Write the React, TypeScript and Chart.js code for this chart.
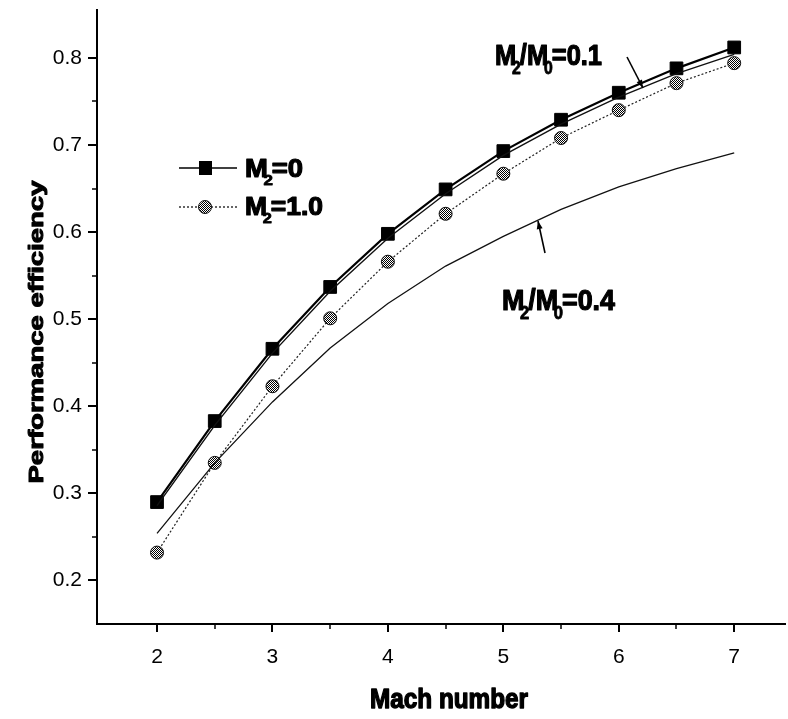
import React, { useEffect, useRef } from 'react';
import { Chart, registerables } from 'chart.js';

Chart.register(...registerables);

// ---------- data ----------
const machNumbers = [2, 2.5, 3, 3.5, 4, 4.5, 5, 5.5, 6, 6.5, 7];
const effM2Zero = [0.290, 0.383, 0.466, 0.537, 0.598, 0.649, 0.693, 0.729, 0.760, 0.788, 0.812];
const effM2One = [0.232, 0.335, 0.423, 0.501, 0.566, 0.621, 0.667, 0.708, 0.740, 0.771, 0.794];
const effRatio01 = [0.286, 0.378, 0.461, 0.532, 0.593, 0.644, 0.688, 0.724, 0.755, 0.782, 0.804];
const effRatio04 = [0.254, 0.335, 0.405, 0.467, 0.518, 0.561, 0.595, 0.626, 0.652, 0.673, 0.691];

const xTickValues = [2, 3, 4, 5, 6, 7];
const xMinorTicks = [2.5, 3.5, 4.5, 5.5, 6.5];
const yTickValues = [0.2, 0.3, 0.4, 0.5, 0.6, 0.7, 0.8];
const yMinorTicks = [0.25, 0.35, 0.45, 0.55, 0.65, 0.75];

const xTitle = 'Mach number';
const yTitle = 'Performance efficiency';

type Part = { t: string; sub?: boolean };
const legendM2Zero: Part[] = [{ t: 'M' }, { t: '2', sub: true }, { t: '=0' }];
const legendM2One: Part[] = [{ t: 'M' }, { t: '2', sub: true }, { t: '=1.0' }];
const labelRatio01: Part[] = [{ t: 'M' }, { t: '2', sub: true }, { t: '/M' }, { t: '0', sub: true }, { t: '=0.1' }];
const labelRatio04: Part[] = [{ t: 'M' }, { t: '2', sub: true }, { t: '/M' }, { t: '0', sub: true }, { t: '=0.4' }];

const FONT = '"Liberation Sans", Arial, sans-serif';

const toPoints = (ys: number[]) => machNumbers.map((x, i) => ({ x, y: ys[i] }));

function heavyText(ctx: CanvasRenderingContext2D, t: string, x: number, y: number, w: number) {
  ctx.fillText(t, x, y);
  ctx.lineWidth = w;
  ctx.lineJoin = 'round';
  ctx.strokeStyle = '#000';
  ctx.strokeText(t, x, y);
}

function drawRich(
  ctx: CanvasRenderingContext2D,
  parts: Part[],
  x: number,
  baseline: number,
  size: number,
  targetWidth: number
) {
  const subSize = size * 0.62;
  const layout: { p: Part; dx: number }[] = [];
  let adv = 0;
  for (const p of parts) {
    if (p.sub) {
      adv -= size * 0.16;
      ctx.font = `bold ${subSize}px ${FONT}`;
      layout.push({ p, dx: adv });
      adv += ctx.measureText(p.t).width - size * 0.04;
    } else {
      ctx.font = `bold ${size}px ${FONT}`;
      layout.push({ p, dx: adv });
      adv += ctx.measureText(p.t).width;
    }
  }
  ctx.save();
  ctx.translate(x, baseline);
  ctx.scale(targetWidth / adv, 1);
  ctx.fillStyle = '#000';
  ctx.textAlign = 'left';
  ctx.textBaseline = 'alphabetic';
  for (const { p, dx } of layout) {
    if (p.sub) {
      ctx.font = `bold ${subSize}px ${FONT}`;
      heavyText(ctx, p.t, dx, size * 0.32, 0.8);
    } else {
      ctx.font = `bold ${size}px ${FONT}`;
      heavyText(ctx, p.t, dx, 0, 1.2);
    }
  }
  ctx.restore();
}

function drawArrow(ctx: CanvasRenderingContext2D, x1: number, y1: number, x2: number, y2: number) {
  ctx.save();
  ctx.strokeStyle = '#000';
  ctx.fillStyle = '#000';
  ctx.lineWidth = 1.6;
  ctx.beginPath();
  ctx.moveTo(x1, y1);
  ctx.lineTo(x2, y2);
  ctx.stroke();
  const ang = Math.atan2(y2 - y1, x2 - x1);
  const len = 8;
  const w = 3;
  ctx.beginPath();
  ctx.moveTo(x2, y2);
  ctx.lineTo(x2 - len * Math.cos(ang) + w * Math.sin(ang), y2 - len * Math.sin(ang) - w * Math.cos(ang));
  ctx.lineTo(x2 - len * Math.cos(ang) - w * Math.sin(ang), y2 - len * Math.sin(ang) + w * Math.cos(ang));
  ctx.closePath();
  ctx.fill();
  ctx.restore();
}

function makePattern(): CanvasPattern | string {
  const pc = document.createElement('canvas');
  pc.width = 2;
  pc.height = 2;
  const p = pc.getContext('2d');
  if (!p) return '#666';
  p.fillStyle = '#fff';
  p.fillRect(0, 0, 2, 2);
  p.fillStyle = '#000';
  p.fillRect(0, 0, 1, 1);
  p.fillRect(1, 1, 1, 1);
  const pat = p.createPattern(pc, 'repeat');
  return pat || '#666';
}

export default function App() {
  const canvasRef = useRef<HTMLCanvasElement | null>(null);

  useEffect(() => {
    const canvas = canvasRef.current;
    if (!canvas) return;
    const pattern = makePattern();

    const decorations = {
      id: 'decorations',
      afterDraw(chart: any) {
        const ctx: CanvasRenderingContext2D = chart.ctx;
        const xs = chart.scales.x;
        const ys = chart.scales.y;
        const area = chart.chartArea;
        ctx.save();
        ctx.strokeStyle = '#000';
        // y ticks (outward)
        ctx.lineWidth = 2;
        for (const v of yTickValues) {
          const py = Math.round(ys.getPixelForValue(v));
          ctx.beginPath();
          ctx.moveTo(area.left - 9, py);
          ctx.lineTo(area.left, py);
          ctx.stroke();
        }
        ctx.lineWidth = 1.5;
        for (const v of yMinorTicks) {
          const py = Math.round(ys.getPixelForValue(v));
          ctx.beginPath();
          ctx.moveTo(area.left - 5, py);
          ctx.lineTo(area.left, py);
          ctx.stroke();
        }
        // x ticks (outward)
        ctx.lineWidth = 2;
        for (const v of xTickValues) {
          const px = Math.round(xs.getPixelForValue(v));
          ctx.beginPath();
          ctx.moveTo(px, area.bottom);
          ctx.lineTo(px, area.bottom + 8);
          ctx.stroke();
        }
        ctx.lineWidth = 1.5;
        for (const v of xMinorTicks) {
          const px = Math.round(xs.getPixelForValue(v));
          ctx.beginPath();
          ctx.moveTo(px, area.bottom);
          ctx.lineTo(px, area.bottom + 5);
          ctx.stroke();
        }

        // axis titles
        ctx.fillStyle = '#000';
        ctx.font = `bold 28px ${FONT}`;
        const wx = ctx.measureText(xTitle).width;
        ctx.save();
        ctx.translate(449, 708);
        ctx.scale(158 / wx, 1);
        ctx.textAlign = 'center';
        ctx.textBaseline = 'alphabetic';
        heavyText(ctx, xTitle, 0, 0, 1.4);
        ctx.restore();

        ctx.font = `bold 28px ${FONT}`;
        const wy = ctx.measureText(yTitle).width;
        ctx.save();
        ctx.translate(43, 332);
        ctx.rotate(-Math.PI / 2);
        ctx.scale(303 / wy, 0.75);
        ctx.textAlign = 'center';
        ctx.textBaseline = 'alphabetic';
        heavyText(ctx, yTitle, 0, 0, 1.4);
        ctx.restore();

        // legend
        ctx.strokeStyle = '#000';
        ctx.lineWidth = 1.5;
        ctx.setLineDash([]);
        ctx.beginPath();
        ctx.moveTo(179, 168);
        ctx.lineTo(237, 168);
        ctx.stroke();
        ctx.fillStyle = '#000';
        ctx.fillRect(199, 161, 13, 14);
        drawRich(ctx, legendM2Zero, 245, 177, 25, 58);

        ctx.strokeStyle = '#000';
        ctx.lineWidth = 1.2;
        ctx.setLineDash([2, 2]);
        ctx.beginPath();
        ctx.moveTo(179, 207);
        ctx.lineTo(237, 207);
        ctx.stroke();
        ctx.setLineDash([]);
        ctx.beginPath();
        ctx.arc(205, 207, 6.5, 0, Math.PI * 2);
        ctx.fillStyle = pattern as any;
        ctx.fill();
        ctx.lineWidth = 1;
        ctx.strokeStyle = '#111';
        ctx.stroke();
        drawRich(ctx, legendM2One, 245, 215, 25, 78);

        // annotations
        drawRich(ctx, labelRatio01, 495, 65, 29, 107);
        drawArrow(ctx, 627, 57, 643, 88);
        drawRich(ctx, labelRatio04, 502, 310, 29, 113);
        drawArrow(ctx, 545, 253, 538, 221);

        ctx.restore();
      },
    };

    const chart = new Chart(canvas, {
      type: 'line',
      data: {
        datasets: [
          {
            label: 'M2/M0=0.4',
            data: toPoints(effRatio04),
            borderColor: '#111',
            borderWidth: 1.3,
            pointRadius: 0,
            fill: false,
            tension: 0,
          },
          {
            label: 'M2/M0=0.1',
            data: toPoints(effRatio01),
            borderColor: '#111',
            borderWidth: 1.4,
            pointRadius: 0,
            fill: false,
            tension: 0,
          },
          {
            label: 'M2=1.0',
            data: toPoints(effM2One),
            borderColor: '#222',
            borderWidth: 1.2,
            borderDash: [2, 2],
            pointStyle: 'circle',
            pointRadius: 6.5,
            pointBackgroundColor: pattern as any,
            pointBorderColor: '#111',
            pointBorderWidth: 1,
            fill: false,
            tension: 0,
          },
          {
            label: 'M2=0',
            data: toPoints(effM2Zero),
            borderColor: '#000',
            borderWidth: 2.2,
            pointStyle: 'rect',
            pointRadius: 9,
            pointBackgroundColor: '#000',
            pointBorderColor: '#000',
            pointBorderWidth: 1,
            fill: false,
            tension: 0,
          },
        ],
      },
      options: {
        animation: false,
        responsive: false,
        maintainAspectRatio: false,
        events: [],
        layout: { autoPadding: false, padding: { top: 10, right: 3, left: 0, bottom: 0 } },
        plugins: {
          legend: { display: false },
          tooltip: { enabled: false },
        },
        scales: {
          x: {
            type: 'linear',
            min: 1.48,
            max: 7.44,
            afterBuildTicks: (s: any) => {
              s.ticks = xTickValues.map((v) => ({ value: v }));
            },
            afterFit: (s: any) => {
              s.height = 95;
              s.paddingLeft = 0;
              s.paddingRight = 0;
            },
            grid: { display: false },
            border: { display: true, color: '#000', width: 2 },
            ticks: {
              color: '#000',
              font: { family: FONT, size: 21 },
              padding: 13,
              maxRotation: 0,
              autoSkip: false,
              callback: (v: any) => String(v),
            },
          },
          y: {
            type: 'linear',
            min: 0.15,
            max: 0.855,
            afterBuildTicks: (s: any) => {
              s.ticks = yTickValues.map((v) => ({ value: v }));
            },
            afterFit: (s: any) => {
              s.width = 97;
              s.paddingTop = 0;
              s.paddingBottom = 0;
            },
            grid: { display: false },
            border: { display: true, color: '#000', width: 2 },
            ticks: {
              color: '#000',
              font: { family: FONT, size: 21 },
              padding: 7,
              autoSkip: false,
              callback: (v: any) => Number(v).toFixed(1),
            },
          },
        },
      },
      plugins: [decorations],
    });

    return () => {
      chart.destroy();
    };
  }, []);

  return (
    <div style={{ position: 'fixed', left: 0, top: 0, width: 788, height: 719, background: '#fff' }}>
      <canvas ref={canvasRef} width={788} height={719} style={{ display: 'block' }} />
    </div>
  );
}
